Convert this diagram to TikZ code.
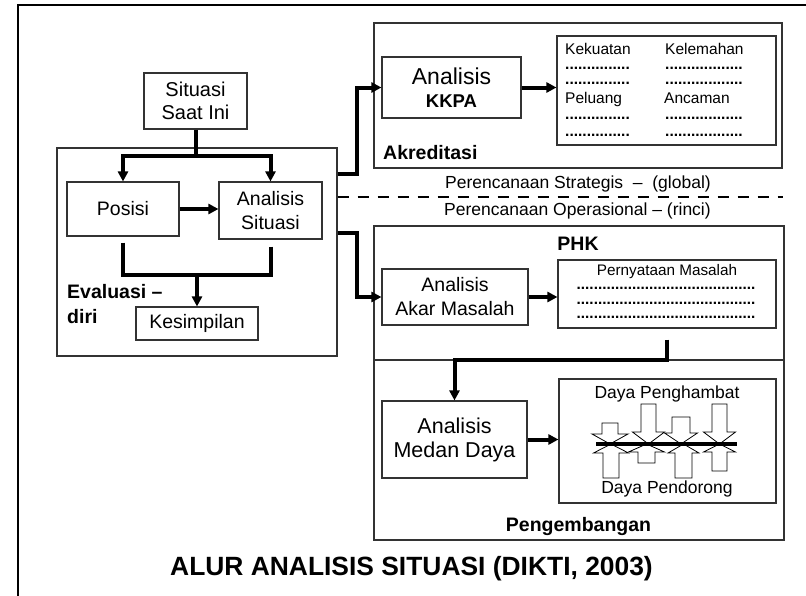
\documentclass[tikz,border=0pt]{standalone}
\usepackage{fontspec}
\setmainfont{Liberation Sans}
\usetikzlibrary{arrows.meta}
\newcommand\setfs[2]{\fontsize{#1}{#2}\selectfont}
% block arrow for the force-field sketch: centre x, shaft half width,
% shaft end y, head base y, head half width, tip y
\newcommand\forcearrow[6]{%
  \draw[force] ({#1-#2},#3) -- ({#1+#2},#3) -- ({#1+#2},#4) -- ({#1+#5},#4)
    -- (#1,#6) -- ({#1-#5},#4) -- ({#1-#2},#4) -- cycle;}
\begin{document}
\begin{tikzpicture}[x=1pt,y=-1pt,
  frame/.style={draw=black, line width=2.4pt, line join=miter},
  box/.style={draw=black!80, line width=1.1pt, inner sep=0pt, align=center,
    font=\setfs{19.5}{24}},
  dims/.style 2 args={minimum width=#1pt, minimum height=#2pt},
  conn/.style={draw=black, line width=4pt, line join=miter,
    -{Triangle[length=10pt,width=10pt]}},
  bar/.style={draw=black, line width=4pt, line join=miter},
  tag/.style={font=\bfseries\setfs{19.5}{24}, inner sep=0pt},
  txt/.style={font=\setfs{17.5}{20}, inner sep=0pt, anchor=base},
  small/.style={font=\setfs{15.5}{18}, inner sep=0pt, anchor=base west},
  dots/.style={small, font=\bfseries\setfs{15.5}{18}},
  force/.style={draw=black, line width=0.8pt, line join=miter},
]
\useasboundingbox (0,0) rectangle (806,595);
\fill[white] (0,0) rectangle (806,595);

% outer frame
\draw[frame] (18,600) -- (18,5) -- (810,5);

% ---------------- self evaluation ----------------
\node[box, dims={280}{208}] (eval) at (197,252) {};
\node[box, dims={103}{56}, font=\setfs{20}{23}] (sit) at (195.5,101) {Situasi\\Saat Ini};
\node[box, dims={112}{54}] (pos) at (123,209) {Posisi};
\node[box, dims={103}{57}] (ans) at (270.5,210.5) {Analisis\\Situasi};
\node[box, dims={122}{33}] (kes) at (197,323.5) {Kesimpilan};
\node[tag, anchor=base west] (evl1) at (67,298) {Evaluasi –};
\node[tag, anchor=base west] (evl2) at (67,323) {diri};

\coordinate (split) at (sit.south |- 0,156);
\draw[bar] (sit.south) -- (split);
\draw[conn] (split) -| (pos.north);
\draw[conn] (split) -| (ans.north);
\draw[conn] (pos.east) -- (ans.west |- pos.east);

\coordinate (merge) at (kes.north |- 0,275);
\draw[bar] ([yshift=-6pt]pos.south) |- (merge);
\draw[bar] ([yshift=-7pt]ans.south) |- (merge);
\draw[conn] (merge) -- (kes.north);

% ---------------- accreditation ----------------
\node[box, dims={408}{145}] (akr) at (578,95.5) {};
\node[box, dims={139}{61}, font=\setfs{23}{23}] (kkpa) at (451.5,87.5)
  {Analisis\\{\bfseries\setfs{18.5}{20}KKPA}};
\node[box, dims={219}{109}] (swot) at (666.5,90.5) {};
\node[tag, anchor=base west] (akrl) at (383,159) {Akreditasi};

\node[small] (s1) at (565,54) {Kekuatan};
\node[small] (s2) at (665,54) {Kelemahan};
\node[dots] (s3) at (565,69) {...............};
\node[dots] (s4) at (665,69) {..................};
\node[dots] (s5) at (565,84) {...............};
\node[dots] (s6) at (665,84) {..................};
\node[small] (s7) at (565,103.5) {Peluang};
\node[small] (s8) at (664,103.5) {Ancaman};
\node[dots] (s9) at (565,119) {...............};
\node[dots] (s10) at (665,119) {..................};
\node[dots] (s11) at (565,136) {...............};
\node[dots] (s12) at (665,136) {..................};

\draw[conn] (eval.east |- 0,174) -- (357,174) |- (kkpa.west);
\draw[conn] (kkpa.east) -- (swot.west |- kkpa.east);

% ---------------- planning levels ----------------
\node[txt] (strat) at (578,188) {Perencanaan Strategis\ \ –\ \ (global)};
\draw[line width=2pt, dash pattern=on 11pt off 9pt] (eval.east |- 0,197) -- (783,197);
\node[txt] (oper) at (577.5,215) {Perencanaan Operasional – (rinci)};

% ---------------- PHK ----------------
\node[box, dims={410}{134}] (phk) at (579,293) {};
\node[tag, anchor=base] (phkl) at (578,250) {PHK};
\node[box, dims={146}{56}] (akar) at (455,297) {Analisis\\Akar Masalah};
\node[box, dims={218}{68}] (pern) at (667,294) {};
\node[small, anchor=base, font=\setfs{15.3}{18}] (pm) at (667,275.5) {Pernyataan Masalah};
\node[dots, anchor=base, font=\bfseries\setfs{15.3}{18}] (d1) at (666,289.5) {..........................................};
\node[dots, anchor=base, font=\bfseries\setfs{15.3}{18}] (d2) at (666,304) {..........................................};
\node[dots, anchor=base, font=\bfseries\setfs{15.3}{18}] (d3) at (666,318) {..........................................};

\draw[conn] (eval.east |- 0,233) -- (357,233) |- (akar.west);
\draw[conn] (akar.east) -- (pern.west |- akar.east);

% ---------------- development ----------------
\node[box, dims={410}{180}] (peng) at (579,450) {};
\node[tag, anchor=base] (pengl) at (578.5,531) {Pengembangan};
\node[box, dims={145}{77}, font=\setfs{21.5}{24}] (medan) at (454.5,439.5) {Analisis\\Medan Daya};
\node[box, dims={217}{124}] (force) at (667.5,441) {};
\node[txt] (hamb) at (667,398) {Daya Penghambat};
\node[txt] (dor) at (667,493) {Daya Pendorong};

% restraining forces (down) and driving forces (up)
\forcearrow{610}{8}{423}{434}{18}{444}
\forcearrow{648.5}{7.5}{404}{432}{16}{444}
\forcearrow{681}{9}{417}{433}{16.5}{444}
\forcearrow{719.5}{7.5}{404}{432}{16}{444}
\forcearrow{611}{8}{478}{453}{17.5}{444}
\forcearrow{646.5}{8.5}{463}{452}{18}{444}
\forcearrow{683.5}{8.5}{478}{453}{15.5}{444}
\forcearrow{719.5}{7.5}{471}{452}{16}{444}
\draw[line width=4pt] (596,444) -- (737,444);

\draw[conn] ([yshift=-11pt]pern.south) -- ++(0,20) -| (medan.north);
\draw[conn] (medan.east) -- (force.west |- medan.east);

% ---------------- title ----------------
\node[anchor=base, inner sep=0pt, font=\bfseries\setfs{26.4}{28}] (title) at (411.5,575)
  {ALUR ANALISIS SITUASI (DIKTI, 2003)};
\end{tikzpicture}
\end{document}
